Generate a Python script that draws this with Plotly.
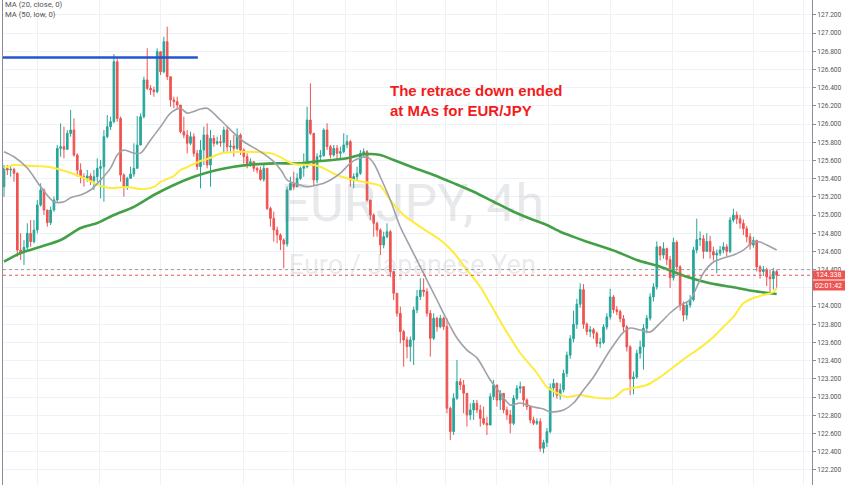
import plotly.graph_objects as go

# ---------------- data ----------------
first_open = 125.311

closes = [
    125.513, 125.495, 125.502, 125.458, 124.615, 124.597, 124.645, 124.799, 124.707, 124.835,
    125.110, 125.275, 125.055, 124.916, 125.055, 125.165, 125.733, 125.751, 125.722, 125.897,
    125.934, 125.659, 125.495, 125.421, 125.403, 125.429, 125.377, 125.421, 125.513, 125.531,
    125.861, 125.971, 126.026, 126.685, 126.062, 125.440, 125.311, 125.403, 125.451, 125.513,
    125.769, 126.081, 126.484, 126.392, 126.374, 126.355, 126.795, 126.575, 126.905, 126.520,
    126.264, 126.246, 126.209, 125.916, 125.879, 125.788, 125.861, 125.678, 125.531, 125.714,
    125.879, 125.550, 125.843, 125.788, 125.806, 125.795, 125.934, 125.751, 125.758, 125.733,
    125.879, 125.714, 125.641, 125.568, 125.586, 125.513, 125.495, 125.392, 125.513, 125.073,
    124.963, 124.835, 124.780, 124.725, 124.681, 125.275, 125.348, 125.311, 125.403, 125.513,
    125.531, 126.044, 125.898, 125.385, 125.641, 125.651, 125.934, 125.751, 125.660, 125.733,
    125.678, 125.696, 125.770, 125.806, 125.385, 125.422, 125.458, 125.678, 125.696, 125.165,
    125.000, 124.909, 124.836, 124.671, 124.762, 124.817, 124.378, 124.140, 123.920, 123.718,
    123.627, 123.554, 123.627, 123.957, 124.103, 124.176, 124.158, 123.920, 123.645, 123.865,
    123.773, 123.865, 123.773, 122.876, 122.620, 122.986, 123.169, 123.132, 123.041, 122.803,
    122.858, 122.931, 122.858, 122.766, 122.711, 122.692, 123.004, 123.132, 122.967, 123.041,
    122.858, 122.803, 122.711, 122.986, 123.096, 123.114, 122.967, 122.894, 122.748, 122.711,
    122.730, 122.436, 122.500, 122.620, 123.100, 123.150, 123.020, 123.080, 123.260, 123.460,
    123.640, 123.800, 124.020, 124.180, 123.800, 123.720, 123.740, 123.700, 123.590, 123.600,
    123.770, 123.880, 124.100, 123.960, 123.940, 123.860, 123.770, 123.550, 123.200, 123.220,
    123.480, 123.550, 123.755, 123.865, 124.100, 124.210, 124.650, 124.560, 124.630, 124.510,
    124.310, 124.700, 124.430, 124.010, 123.900, 124.010, 124.070, 124.615, 124.730, 124.740,
    124.600, 124.710, 124.600, 124.560, 124.580, 124.615, 124.650, 124.600, 124.945, 125.000,
    124.960, 124.910, 124.850, 124.760, 124.670, 124.720, 124.430, 124.380, 124.400, 124.320,
    124.300, 124.380, 124.338,
]

highs = [
    125.550, 125.550, 125.531, 125.520, 125.470, 124.800, 124.725, 124.909, 124.945, 124.945,
    125.165, 125.348, 125.293, 125.055, 125.092, 125.202, 125.769, 126.007, 125.971, 125.934,
    126.154, 126.062, 125.678, 125.568, 125.458, 125.495, 125.458, 125.495, 125.623, 125.605,
    125.934, 126.099, 126.081, 126.769, 126.722, 126.081, 125.458, 125.421, 125.531, 125.788,
    126.088, 126.117, 126.520, 126.832, 126.429, 126.410, 126.832, 126.740, 126.960, 127.070,
    126.520, 126.300, 126.300, 126.191, 126.081, 125.934, 125.916, 125.898, 125.714, 125.824,
    125.971, 126.007, 125.934, 125.879, 125.861, 125.879, 125.971, 125.971, 125.824, 125.879,
    125.952, 125.898, 125.733, 125.678, 125.623, 125.586, 125.531, 125.531, 125.550, 125.513,
    125.092, 125.037, 124.872, 124.799, 124.744, 125.311, 125.421, 125.476, 125.458, 125.531,
    125.678, 126.191, 126.447, 125.898, 125.678, 125.714, 125.952, 126.008, 125.770, 125.770,
    125.770, 125.751, 125.898, 125.880, 125.825, 125.458, 125.532, 125.715, 125.733, 125.715,
    125.165, 125.019, 124.927, 124.854, 124.817, 124.909, 124.836, 124.378, 124.140, 123.993,
    123.737, 123.664, 123.664, 123.993, 124.176, 124.305, 124.305, 124.195, 123.957, 123.920,
    123.883, 123.902, 123.883, 123.865, 122.894, 123.041, 123.407, 123.206, 123.187, 123.041,
    122.931, 122.968, 122.968, 122.913, 122.894, 122.784, 123.041, 123.187, 123.132, 123.077,
    123.041, 122.894, 122.858, 123.022, 123.132, 123.169, 123.114, 122.986, 122.894, 122.784,
    122.766, 122.766, 122.530, 122.660, 123.150, 123.200, 123.160, 123.150, 123.300, 123.500,
    123.680, 123.950, 124.080, 124.250, 124.240, 123.820, 123.780, 123.760, 123.720, 123.650,
    123.800, 123.920, 124.190, 124.120, 124.000, 123.960, 123.900, 123.790, 123.570, 123.280,
    123.520, 123.620, 123.800, 123.900, 124.140, 124.250, 124.710, 124.660, 124.700, 124.640,
    124.550, 124.750, 124.720, 124.450, 124.050, 124.050, 124.120, 124.650, 124.960, 124.820,
    124.780, 124.800, 124.770, 124.650, 124.620, 124.660, 124.700, 124.680, 124.980, 125.070,
    125.040, 125.000, 124.950, 124.880, 124.800, 124.760, 124.730, 124.450, 124.440, 124.420,
    124.400, 124.420, 124.400,
]

lows = [
    125.200, 125.440, 125.421, 125.366, 124.543, 124.506, 124.451, 124.615, 124.652, 124.689,
    124.799, 125.092, 125.000, 124.872, 124.890, 125.037, 125.147, 125.641, 125.623, 125.714,
    125.861, 125.641, 125.421, 125.348, 125.311, 125.366, 125.330, 125.275, 125.366, 125.183,
    125.147, 125.843, 125.934, 126.007, 126.026, 125.366, 125.202, 125.275, 125.403, 125.421,
    125.714, 125.769, 126.062, 126.374, 126.319, 126.300, 126.337, 126.538, 126.557, 126.484,
    126.191, 126.172, 126.154, 125.898, 125.843, 125.678, 125.769, 125.641, 125.495, 125.293,
    125.550, 125.513, 125.311, 125.751, 125.769, 125.751, 125.678, 125.696, 125.696, 125.641,
    125.714, 125.660, 125.568, 125.513, 125.531, 125.476, 125.458, 125.377, 125.366, 125.055,
    124.872, 124.707, 124.689, 124.616, 124.414, 124.652, 125.275, 125.275, 125.311, 125.385,
    125.421, 125.513, 125.879, 125.330, 125.348, 125.605, 125.641, 125.715, 125.623, 125.641,
    125.605, 125.623, 125.678, 125.733, 125.312, 125.293, 125.385, 125.440, 125.641, 125.147,
    124.946, 124.762, 124.762, 124.561, 124.634, 124.744, 124.320, 124.066, 123.883, 123.590,
    123.334, 123.425, 123.389, 123.352, 123.920, 124.066, 124.103, 123.883, 123.444, 123.627,
    123.718, 123.755, 123.737, 122.821, 122.528, 122.583, 122.968, 123.077, 122.821, 122.675,
    122.748, 122.748, 122.821, 122.675, 122.692, 122.583, 122.692, 122.967, 122.894, 122.858,
    122.821, 122.748, 122.601, 122.692, 122.967, 123.041, 122.894, 122.858, 122.711, 122.692,
    122.692, 122.400, 122.381, 122.450, 122.600, 123.000, 122.980, 122.970, 123.050, 123.220,
    123.420, 123.600, 123.750, 123.980, 123.750, 123.680, 123.660, 123.640, 123.550, 123.540,
    123.580, 123.740, 123.850, 123.920, 123.900, 123.820, 123.720, 123.500, 123.020, 123.030,
    123.200, 123.420, 123.300, 123.700, 123.840, 124.050, 124.180, 124.500, 124.520, 124.450,
    124.200, 124.280, 124.380, 123.950, 123.830, 123.850, 123.980, 124.050, 124.580, 124.660,
    124.520, 124.600, 124.520, 124.500, 124.360, 124.550, 124.580, 124.550, 124.580, 124.920,
    124.900, 124.850, 124.780, 124.700, 124.620, 124.640, 124.380, 124.300, 124.330, 124.220,
    124.150, 124.180, 124.200,
]

# moving averages, read at sampled candle indices
ma20_idx = [0, 3, 7, 11, 15, 18, 20, 23, 26, 29, 32, 34, 36, 39, 41, 44, 47, 50, 53, 55,
            59, 61, 65, 69, 72, 77, 81, 83.5, 85, 89, 91, 94, 96, 98, 101, 104, 106, 109, 111, 113,
            116, 119, 122, 125, 128, 130, 133, 136, 139, 142, 146, 149, 152, 155, 159, 162, 164, 168, 171, 174,
            177, 182, 186, 188, 191, 194, 197, 200, 203, 206, 208, 210, 213, 216, 219, 222, 225, 227, 229, 232]
ma20_val = [125.696, 125.640, 125.516, 125.311, 125.146, 125.146, 125.190, 125.220, 125.275, 125.385,
            125.516, 125.660, 125.714, 125.680, 125.680, 125.824, 125.970, 126.120, 126.173, 126.120,
            126.165, 126.173, 126.044, 125.900, 125.805, 125.696, 125.586, 125.476, 125.385, 125.330,
            125.310, 125.330, 125.350, 125.385, 125.460, 125.570, 125.615, 125.637, 125.570, 125.418,
            125.165, 124.868, 124.648, 124.430, 124.210, 124.066, 123.846, 123.648, 123.516, 123.430,
            123.187, 123.044, 122.912, 122.934, 122.890, 122.868, 122.835, 122.857, 122.934, 123.077,
            123.220, 123.516, 123.714, 123.758, 123.736, 123.714, 123.813, 123.923, 124.010, 124.066,
            124.209, 124.363, 124.484, 124.527, 124.560, 124.615, 124.703, 124.703, 124.670, 124.615]

ma50_idx = [0, 3, 8, 13, 19, 24, 29, 32, 37, 41, 45, 47, 51, 53, 55, 59, 61, 65, 67, 72,
            76, 80, 83, 85, 87, 93, 95, 100, 105, 110, 113, 116, 120, 125, 131, 135, 139, 143, 145, 150,
            155, 160, 163, 166, 169, 173, 177, 183, 186, 189, 193, 197, 201, 205, 209, 213, 216, 219, 222, 225,
            228, 231, 232]
ma50_val = [125.516, 125.550, 125.540, 125.530, 125.476, 125.407, 125.319, 125.297, 125.308, 125.286,
            125.310, 125.363, 125.429, 125.495, 125.527, 125.593, 125.615, 125.676, 125.687, 125.696,
            125.692, 125.680, 125.637, 125.593, 125.560, 125.550, 125.530, 125.440, 125.385, 125.350,
            125.319, 125.165, 125.000, 124.870, 124.725, 124.588, 124.396, 124.212, 124.088, 123.770,
            123.484, 123.264, 123.110, 123.044, 123.000, 123.022, 122.995, 122.990, 123.077, 123.100,
            123.132, 123.220, 123.330, 123.440, 123.540, 123.660, 123.770, 123.880, 124.030, 124.088,
            124.120, 124.154, 124.198]

ma100_idx = [0, 5, 11, 17, 23, 28, 33, 39, 45, 51, 57, 63, 69, 75, 81, 89, 93, 103, 108, 113,
             117, 123, 129, 135, 141, 147, 153, 159, 163, 167, 171, 175, 184, 190, 197, 205, 212, 219, 225, 232]
ma100_val = [124.487, 124.582, 124.652, 124.725, 124.857, 124.912, 125.000, 125.090, 125.220, 125.330,
             125.420, 125.487, 125.530, 125.557, 125.568, 125.568, 125.586, 125.623, 125.667, 125.660,
             125.604, 125.520, 125.440, 125.350, 125.256, 125.146, 125.036, 124.945, 124.890, 124.816,
             124.760, 124.707, 124.597, 124.505, 124.432, 124.322, 124.250, 124.206, 124.165, 124.132]

price_ticks = [122.2, 122.4, 122.6, 122.8, 123.0, 123.2, 123.4, 123.6, 123.8, 124.0, 124.2, 124.4,
               124.6, 124.8, 125.0, 125.2, 125.4, 125.6, 125.8, 126.0, 126.2, 126.4, 126.6, 126.8,
               127.0, 127.2]
price_labels = ["122.200", "122.400", "122.600", "122.800", "123.000", "123.200", "123.400",
                "123.600", "123.800", "124.000", "", "124.400", "124.600", "124.800", "125.000",
                "125.200", "125.400", "125.600", "125.800", "126.000", "126.200", "126.400",
                "126.600", "126.800", "127.000", "127.200"]
time_grid = [10.2, 28.8, 47.1, 71.8, 86.8, 102.4, 117.7, 132.7, 148.0, 163.4, 182.0, 200.6, 224.9, 239.9]

level_price = 126.73
level_end = 58.2
last_price = 124.338
prev_close = 124.40
countdown = "02:01:42"

# ---------------- figure ----------------
UP = "#26a69a"
DOWN = "#ef5350"
W, H = 852, 485
PL, PR = 3, 40
PW = W - PL - PR


def px_x(px):
    return (px - PL) / PW


def px_y(px):
    return 1 - px / H


idx = list(range(len(closes)))
opens = [first_open] + closes[:-1]
hi = [max(h, o, c) for h, o, c in zip(highs, opens, closes)]
lo = [min(l, o, c) for l, o, c in zip(lows, opens, closes)]

fig = go.Figure()

# watermark (behind candles)
wm_x = 122.6
fig.add_trace(go.Scatter(x=[wm_x], y=[125.077], mode="text", text=["EURJPY, 4h"],
                         textfont=dict(family="Roboto", size=52, color="rgba(120,123,134,0.17)"),
                         hoverinfo="skip", showlegend=False))
fig.add_trace(go.Scatter(x=[wm_x], y=[124.43], mode="text", text=["Euro / Japanese Yen"],
                         textfont=dict(family="Roboto", size=27, color="rgba(120,123,134,0.17)"),
                         hoverinfo="skip", showlegend=False))

fig.add_trace(go.Candlestick(
    x=idx, open=opens, high=hi, low=lo, close=closes,
    increasing=dict(line=dict(color=UP, width=1), fillcolor=UP),
    decreasing=dict(line=dict(color=DOWN, width=1), fillcolor=DOWN),
    whiskerwidth=0, showlegend=False, hoverinfo="skip"))

fig.add_trace(go.Scatter(x=ma100_idx, y=ma100_val, mode="lines",
                         line=dict(color="#43a047", width=2.6, shape="spline", smoothing=0.8),
                         hoverinfo="skip", showlegend=False))
fig.add_trace(go.Scatter(x=ma50_idx, y=ma50_val, mode="lines",
                         line=dict(color="#ffeb3b", width=2, shape="spline", smoothing=0.8),
                         hoverinfo="skip", showlegend=False))
fig.add_trace(go.Scatter(x=ma20_idx, y=ma20_val, mode="lines",
                         line=dict(color="#a0a0a8", width=1.6, shape="spline", smoothing=0.8),
                         hoverinfo="skip", showlegend=False))

shapes = [
    dict(type="line", xref="x", yref="y", x0=-0.3, x1=level_end, y0=level_price, y1=level_price,
         line=dict(color="#2454d2", width=2.5)),
    dict(type="line", xref="paper", yref="y", x0=0, x1=1, y0=prev_close, y1=prev_close,
         line=dict(color="#9a9a9a", width=1, dash="dot")),
    dict(type="line", xref="paper", yref="y", x0=0, x1=1, y0=last_price, y1=last_price,
         line=dict(color="#ef5350", width=1, dash="dot")),
    # price / countdown label boxes on the axis
    dict(type="rect", xref="paper", yref="paper", layer="above",
         x0=px_x(813), x1=px_x(845), y0=px_y(279.5), y1=px_y(270.5),
         fillcolor=DOWN, line=dict(width=0)),
    dict(type="rect", xref="paper", yref="paper", layer="above",
         x0=px_x(813), x1=px_x(845), y0=px_y(290.5), y1=px_y(280.5),
         fillcolor=DOWN, line=dict(width=0)),
]

annotations = [
    dict(xref="paper", yref="paper", x=0.0, y=px_y(4.5), xanchor="left", yanchor="middle",
         text="MA (20, close, 0)", showarrow=False, font=dict(family="Roboto", size=7.7, color="#555")),
    dict(xref="paper", yref="paper", x=0.0, y=px_y(14), xanchor="left", yanchor="middle",
         text="MA (50, low, 0)", showarrow=False, font=dict(family="Roboto", size=7.7, color="#555")),
    dict(xref="paper", yref="paper", x=px_x(388), y=px_y(100.5), xanchor="left", yanchor="middle",
         align="left", showarrow=False,
         text="<b>The retrace down ended<br>at MAs for EUR/JPY</b>",
         font=dict(family="Liberation Sans, Arial", size=15, color="#f21c1c")),
    dict(xref="paper", yref="paper", x=px_x(829), y=px_y(275), xanchor="center", yanchor="middle",
         text=f"{last_price:.3f}", showarrow=False, borderpad=0,
         font=dict(family="Roboto", size=7, color="white")),
    dict(xref="paper", yref="paper", x=px_x(829), y=px_y(285.5), xanchor="center", yanchor="middle",
         text=countdown, showarrow=False, borderpad=0,
         font=dict(family="Roboto", size=7, color="white")),
]

fig.update_layout(
    width=W, height=H,
    margin=dict(l=PL, r=PR, t=0, b=0),
    paper_bgcolor="white", plot_bgcolor="white",
    showlegend=False,
    shapes=shapes, annotations=annotations,
    xaxis=dict(range=[-0.3, 242.6], showticklabels=False, tickvals=time_grid,
               showgrid=True, gridcolor="#eef1f6", gridwidth=1, zeroline=False,
               rangeslider=dict(visible=False), showline=False, fixedrange=True),
    yaxis=dict(side="right", range=[122.033, 127.363], tickvals=price_ticks,
               ticktext=price_labels,
               showgrid=True, gridcolor="#eef1f6", gridwidth=1, zeroline=False,
               showline=True, linecolor="#8c8c96", linewidth=1, mirror=True,
               ticks="outside", ticklen=3, tickcolor="#8c8c96",
               tickfont=dict(family="Roboto", size=6.6, color="#555"), fixedrange=True),
)

fig.write_html("out.html", config={"displayModeBar": False})

# remove the browser's default page margin so the figure sits at the window's corner
with open("out.html", "r", encoding="utf-8") as f:
    html = f.read()
html = html.replace("<head>", "<head><style>html,body{margin:0;padding:0;}</style>", 1)
with open("out.html", "w", encoding="utf-8") as f:
    f.write(html)
